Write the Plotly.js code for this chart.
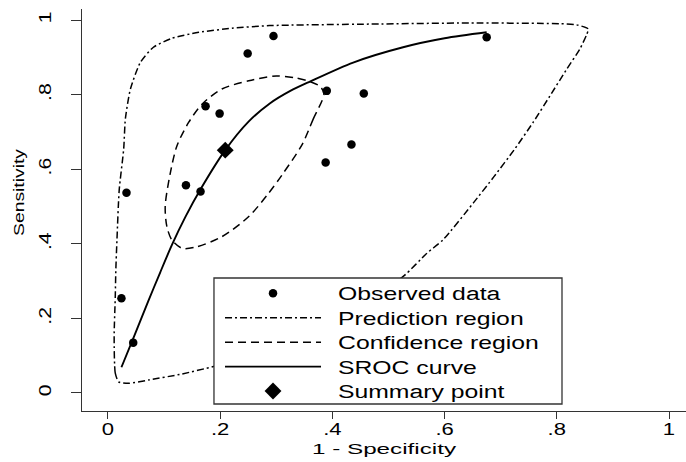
<!DOCTYPE html>
<html>
<head>
<meta charset="utf-8">
<script src="https://cdn.plot.ly/plotly-3.0.1.min.js"></script>
<style>
  html, body { margin: 0; padding: 0; background: #fff; }
  #chart { width: 686px; height: 462px; }
  .legendtext { transform: translateX(12px) scale(1.5, 1.12); transform-box: fill-box; transform-origin: 0% 50%; }
  .legend, .legend g, .legend .scrollbox { clip-path: none !important; }
</style>
</head>
<body>
<div id="chart"></div>
<script>
// ---- data ----
const seriesNames = ['Observed data', 'Prediction region', 'Confidence region', 'SROC curve', 'Summary point'];

const obsX = [0.033, 0.139, 0.165, 0.174, 0.199, 0.249, 0.295, 0.390, 0.388, 0.434, 0.456, 0.675, 0.024, 0.045];
const obsY = [0.537, 0.557, 0.540, 0.769, 0.749, 0.910, 0.957, 0.810, 0.618, 0.666, 0.803, 0.954, 0.254, 0.135];

const predX = [0.019, 0.013, 0.011, 0.013, 0.014, 0.016, 0.020, 0.028, 0.031, 0.040, 0.058, 0.081, 0.114, 0.162, 0.221, 0.288, 0.467, 0.645, 0.806, 0.835, 0.856, 0.853, 0.841, 0.818, 0.788, 0.758, 0.725, 0.688, 0.651, 0.598, 0.568, 0.529, 0.470, 0.400, 0.320, 0.250, 0.188, 0.132, 0.073, 0.037, 0.019];
const predY = [0.030, 0.053, 0.151, 0.258, 0.330, 0.410, 0.544, 0.654, 0.735, 0.815, 0.887, 0.927, 0.951, 0.967, 0.978, 0.985, 0.989, 0.992, 0.990, 0.987, 0.976, 0.960, 0.922, 0.869, 0.797, 0.726, 0.654, 0.580, 0.509, 0.412, 0.374, 0.316, 0.250, 0.190, 0.135, 0.097, 0.071, 0.051, 0.035, 0.026, 0.030];

const confX = [0.385, 0.366, 0.346, 0.310, 0.286, 0.251, 0.203, 0.156, 0.132, 0.114, 0.105, 0.102, 0.111, 0.123, 0.144, 0.168, 0.203, 0.251, 0.300, 0.333, 0.360, 0.378, 0.385];
const confY = [0.802, 0.735, 0.666, 0.584, 0.535, 0.473, 0.419, 0.391, 0.388, 0.410, 0.446, 0.500, 0.589, 0.663, 0.726, 0.775, 0.815, 0.837, 0.850, 0.845, 0.835, 0.822, 0.802];

const srocX = [0.024, 0.046, 0.072, 0.093, 0.114, 0.138, 0.165, 0.209, 0.251, 0.289, 0.325, 0.360, 0.437, 0.526, 0.600, 0.675];
const srocY = [0.069, 0.150, 0.247, 0.323, 0.397, 0.472, 0.546, 0.651, 0.728, 0.777, 0.810, 0.835, 0.886, 0.927, 0.951, 0.967];

const sumX = [0.209];
const sumY = [0.651];

const xTickVals = [0, 0.2, 0.4, 0.6, 0.8, 1];
const xTickText = ['0', '.2', '.4', '.6', '.8', '1'];
const yTickVals = [0, 0.2, 0.4, 0.6, 0.8, 1];
const yTickText = ['0', '.2', '.4', '.6', '.8', '1'];

const xTitle = '1 - Specificity';
const yTitle = 'Sensitivity';

// ---- traces (draw order: regions, curve, points) ----
const FONT = 'Liberation Sans, Arial, Helvetica, sans-serif';

const traces = [
  { type: 'scatter', mode: 'lines', name: seriesNames[1], x: predX, y: predY, legendrank: 2,
    line: { color: '#000', width: 1.5, dash: '7px,3px,2px,3px', shape: 'spline', smoothing: 0.6 }, hoverinfo: 'skip' },
  { type: 'scatter', mode: 'lines', name: seriesNames[2], x: confX, y: confY, legendrank: 3,
    line: { color: '#000', width: 1.5, dash: '8px,5px', shape: 'spline', smoothing: 0.8 }, hoverinfo: 'skip' },
  { type: 'scatter', mode: 'lines', name: seriesNames[3], x: srocX, y: srocY, legendrank: 4,
    line: { color: '#000', width: 1.9, shape: 'spline', smoothing: 0.8 }, hoverinfo: 'skip' },
  { type: 'scatter', mode: 'markers', name: seriesNames[0], x: obsX, y: obsY, legendrank: 1,
    marker: { color: '#000', size: 8.5, symbol: 'circle' } },
  { type: 'scatter', mode: 'markers', name: seriesNames[4], x: sumX, y: sumY, legendrank: 5,
    marker: { color: '#000', size: 13, symbol: 'diamond' } }
];

const layout = {
  width: 686, height: 462,
  margin: { l: 82, r: 0, t: 9, b: 51, pad: 0 },
  paper_bgcolor: '#fff', plot_bgcolor: '#fff',
  font: { family: FONT, color: '#000' },
  showlegend: true,
  xaxis: {
    range: [-0.0463, 1.0303], tickmode: 'array', tickvals: xTickVals, ticktext: xTickText,
    ticks: 'outside', ticklen: 7, tickwidth: 1, tickcolor: '#333',
    showline: true, linecolor: '#333', linewidth: 1, mirror: false,
    showgrid: false, zeroline: false, fixedrange: true,
    tickfont: { family: FONT, size: 17, color: '#000' },
    title: { text: xTitle, font: { family: FONT, size: 15, color: '#000' }, standoff: 0 }
  },
  yaxis: {
    range: [-0.0483, 1.0295], tickmode: 'array', tickvals: yTickVals, ticktext: yTickText,
    tickangle: -90, ticks: 'outside', ticklen: 10, tickwidth: 1, tickcolor: '#333',
    ticklabelstandoff: 13,
    showline: true, linecolor: '#333', linewidth: 1, mirror: false,
    showgrid: false, zeroline: false, fixedrange: true,
    tickfont: { family: FONT, size: 17, color: '#000' }
  },
  annotations: [
    { text: yTitle, xref: 'paper', yref: 'paper', x: -0.1043, y: 0.5423, textangle: -90,
      showarrow: false, xanchor: 'center', yanchor: 'middle',
      font: { family: FONT, size: 14, color: '#000' } }
  ],
  shapes: [
    // legend frame (white box drawn over the curves)
    { type: 'rect', xref: 'paper', yref: 'paper', x0: 0.2185, x1: 0.7947, y0: 0.0174, y1: 0.3308,
      layer: 'above', fillcolor: '#fff', line: { color: '#333', width: 1.3 } }
  ],
  legend: {
    x: 0.2285, y: 0.3358, xanchor: 'left', yanchor: 'top',
    bgcolor: 'rgba(0,0,0,0)', borderwidth: 0,
    font: { family: FONT, size: 16.5, color: '#000' },
    itemwidth: 96, tracegroupgap: 0, traceorder: 'normal', itemclick: false, itemdoubleclick: false
  }
};

function stretchBy(sel, f) {
  document.querySelectorAll(sel).forEach(function (t) {
    const w = t.getComputedTextLength();
    if (w > 0) {
      t.setAttribute('textLength', (w * f).toFixed(1));
      t.setAttribute('lengthAdjust', 'spacingAndGlyphs');
    }
  });
}
function stretchTo(sel, len) {
  document.querySelectorAll(sel).forEach(function (t) {
    t.setAttribute('textLength', String(len));
    t.setAttribute('lengthAdjust', 'spacingAndGlyphs');
  });
}
// move a text vertically so that its box top sits at a given page y
function placeTop(sel, top) {
  document.querySelectorAll(sel).forEach(function (t) {
    const r = t.getBoundingClientRect();
    const y = parseFloat(t.getAttribute('y')) || 0;
    t.setAttribute('y', (y + (top - r.top)).toFixed(1));
  });
}

Plotly.newPlot('chart', traces, layout, { displayModeBar: false, staticPlot: true }).then(function () {
  placeTop('.xtick text', 420);
  placeTop('.xtitle', 439.5);
  stretchBy('.xtick text', 1.3);
  stretchBy('.ytick text', 1.25);
  stretchTo('.xtitle', 144);
  stretchTo('.annotation-text', 87);
});
</script>
</body>
</html>
